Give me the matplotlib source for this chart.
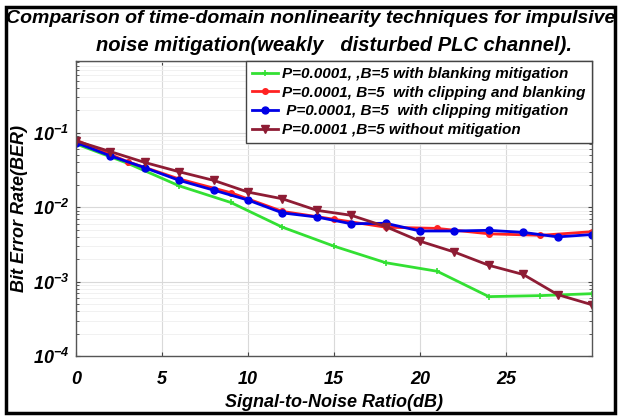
import numpy as np
import matplotlib
matplotlib.use("Agg")
import matplotlib.pyplot as plt
from matplotlib.ticker import FixedLocator, LogLocator, NullFormatter, FuncFormatter
from matplotlib.patches import Rectangle

plt.rcParams['font.family'] = ['Liberation Sans', 'DejaVu Sans']
plt.rcParams['mathtext.fontset'] = 'custom'
plt.rcParams['mathtext.rm'] = 'Liberation Sans:bold:italic'
plt.rcParams['mathtext.it'] = 'Liberation Sans:bold:italic'
plt.rcParams['mathtext.default'] = 'rm'

# values
snr_3db = [0, 3, 6, 9, 12, 15, 18, 21, 24, 27, 30]
snr_2db = [0, 2, 4, 6, 8, 10, 12, 14, 16, 18, 20, 22, 24, 26, 28, 30]

ber_blanking = [0.071, 0.039, 0.0194, 0.0116, 0.0054, 0.0030, 0.0018,
                0.00138, 0.00063, 0.00065, 0.00069]
ber_clip_blank = [0.080, 0.041, 0.024, 0.0157, 0.0088, 0.0069, 0.0054,
                  0.0052, 0.0044, 0.0042, 0.0047]
ber_clipping = [0.074, 0.049, 0.034, 0.023, 0.017, 0.0125, 0.0084, 0.0074,
                0.0060, 0.0061, 0.0048, 0.0048, 0.0049, 0.0046, 0.0040, 0.0043]
ber_none = [0.078, 0.056, 0.040, 0.030, 0.023, 0.016, 0.013, 0.0091,
            0.0078, 0.0055, 0.0035, 0.0025, 0.00166, 0.00125, 0.00067, 0.00049]

labels = ["P=0.0001, ,B=5 with blanking mitigation",
          "P=0.0001, B=5  with clipping and blanking",
          " P=0.0001, B=5  with clipping mitigation",
          "P=0.0001 ,B=5 without mitigation"]

title_lines = ["Comparison of time-domain nonlinearity techniques for impulsive",
               "noise mitigation(weakly   disturbed PLC channel)."]

x_ticks = [0, 5, 10, 15, 20, 25]
y_ticks = [1e-4, 1e-3, 1e-2, 1e-1]

fig = plt.figure(figsize=(6.18, 4.16), dpi=100)
ax = fig.add_axes([0.123, 0.144, 0.835, 0.709])

ax.plot(snr_3db, ber_blanking, color='#33e033', lw=2, marker='+', ms=4, mew=1.2, label=labels[0])
ax.plot(snr_3db, ber_clip_blank, color='#ff2222', lw=2, marker='.', ms=8, label=labels[1])
ax.plot(snr_2db, ber_clipping, color='#0000e6', lw=2, marker='o', ms=5, label=labels[2])
ax.plot(snr_2db, ber_none, color='#8e1c34', lw=2, marker='v', ms=6, label=labels[3])

ax.set_yscale('log')
ax.set_xlim(0, 30)
ax.set_ylim(1e-4, 0.92)
ax.xaxis.set_major_locator(FixedLocator(x_ticks))
ax.yaxis.set_major_locator(FixedLocator(y_ticks))
ax.yaxis.set_minor_locator(LogLocator(base=10, subs=np.arange(2, 10)))
ax.yaxis.set_minor_formatter(NullFormatter())
ax.yaxis.set_major_formatter(FuncFormatter(lambda v, p: r'$10^{%d}$' % round(np.log10(v))))

ax.grid(True, which='major', color='#d9d9d9', lw=0.8)
ax.grid(True, which='minor', axis='y', color='#efefef', lw=0.6)
ax.set_axisbelow(True)
ax.tick_params(which='both', direction='in', top=True, right=True, length=3,
               labelsize=13, color='#444444')
ax.tick_params(axis='x', pad=11)
ax.tick_params(axis='y', pad=5)
ax.tick_params(which='minor', length=2)
for lab in ax.get_xticklabels():
    lab.set_fontweight('bold')
    lab.set_fontstyle('italic')
for sp in ax.spines.values():
    sp.set_color('#555555')
    sp.set_linewidth(1.0)

ax.set_xlabel("Signal-to-Noise Ratio(dB)", fontsize=13, fontweight='bold', style='italic', labelpad=4)
ax.set_ylabel("Bit Error Rate(BER)", fontsize=13, fontweight='bold', style='italic', labelpad=3)

leg = ax.legend(loc='upper right', bbox_to_anchor=(1.0, 1.0), borderaxespad=0,
                prop={'weight': 'bold', 'style': 'italic', 'size': 11},
                handlelength=1.7, handletextpad=0.3, labelspacing=0.3,
                fancybox=False, framealpha=1, borderpad=0.4)
leg.get_frame().set_edgecolor('#444444')
leg.get_frame().set_linewidth(1.0)

fig.text(0.503, 0.955, title_lines[0], ha='center', va='center', fontsize=14,
         fontweight='bold', style='italic')
fig.text(0.541, 0.890, title_lines[1], ha='center', va='center', fontsize=14.5,
         fontweight='bold', style='italic')

fig.patches.append(Rectangle((0.01, 0.008), 0.985, 0.975, transform=fig.transFigure,
                             fill=False, edgecolor='black', lw=2.5))

fig.savefig("out.png", dpi=100)
